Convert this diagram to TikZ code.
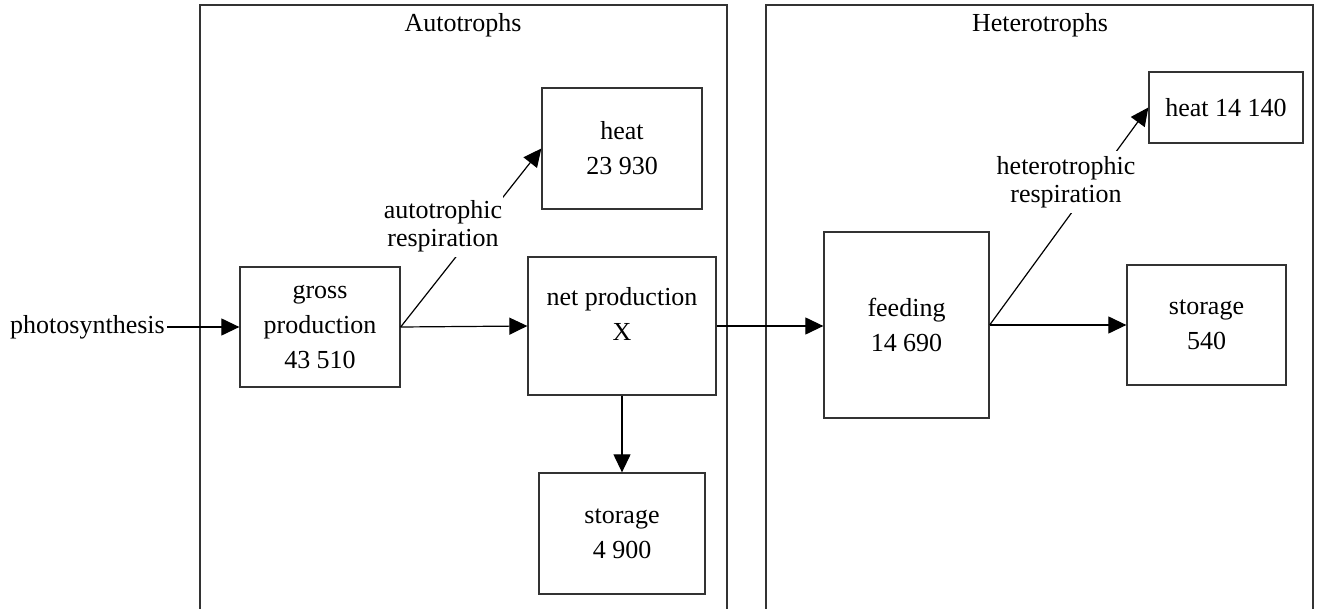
\documentclass[tikz,border=0pt]{standalone}
\usepackage{fontspec}
\setmainfont{Liberation Serif}
\usetikzlibrary{arrows.meta}
\begin{document}
\begin{tikzpicture}[x=1pt,y=-1pt,
  every node/.style={font=\fontsize{26}{35}\selectfont},
  box/.style={draw=black!80, line width=1.3pt, inner sep=0pt, align=center},
  frame/.style={draw=black!80, line width=1.3pt},
  arr/.style={draw=black, line width=1.2pt, -{Triangle[length=18pt,width=17pt]}},
  lbl/.style={fill=white, inner xsep=1pt, inner ysep=5pt, align=center, font=\fontsize{26}{28}\selectfont}]
\useasboundingbox (0,0) rectangle (1319,609);
\draw[frame] (200,609) -- (200,5) -- (727,5) -- (727,609);
\draw[frame] (766,609) -- (766,5) -- (1313,5) -- (1313,609);
\node (tA) at (463,25) {Autotrophs};
\node (tH) at (1040,25) {Heterotrophs};
\node[anchor=east, inner sep=2pt] (photo) at (167,327) {photosynthesis};
\node[box, minimum width=160, minimum height=120] (gross) at (320,327) {gross\\production\\43 510};
\node[box, minimum width=160, minimum height=121] (heatA) at (622,148.5) {heat\\23 930};
\node[box, minimum width=188, minimum height=138] (net) at (622,326) {};
\node[align=center, inner sep=0pt] (nettext) at (622,314) {net production\\X};
\node[box, minimum width=166, minimum height=121] (storA) at (622,533.5) {storage\\4 900};
\node[box, minimum width=165, minimum height=186] (feed) at (906.5,325) {feeding\\14 690};
\node[box, minimum width=154, minimum height=71] (heatH) at (1226,107.5) {heat 14 140};
\node[box, minimum width=159, minimum height=120] (storH) at (1206.5,325) {storage\\540};
\draw[arr] (photo.east) -- (photo.east -| gross.west);
\draw[arr] (gross.east) -- (net.west);
\draw[arr] (gross.east) -- (heatA.west);
\draw[arr] (net.south) -- (storA.north);
\draw[arr] (net.east) -- (net.east -| feed.west);
\draw[arr] (feed.east) -- (storH.west);
\draw[arr] (feed.east) -- (heatH.west);
\node[lbl] (resA) at (443,226) {autotrophic\\respiration};
\node[lbl] (resH) at (1066,182) {heterotrophic\\respiration};
\end{tikzpicture}
\end{document}
